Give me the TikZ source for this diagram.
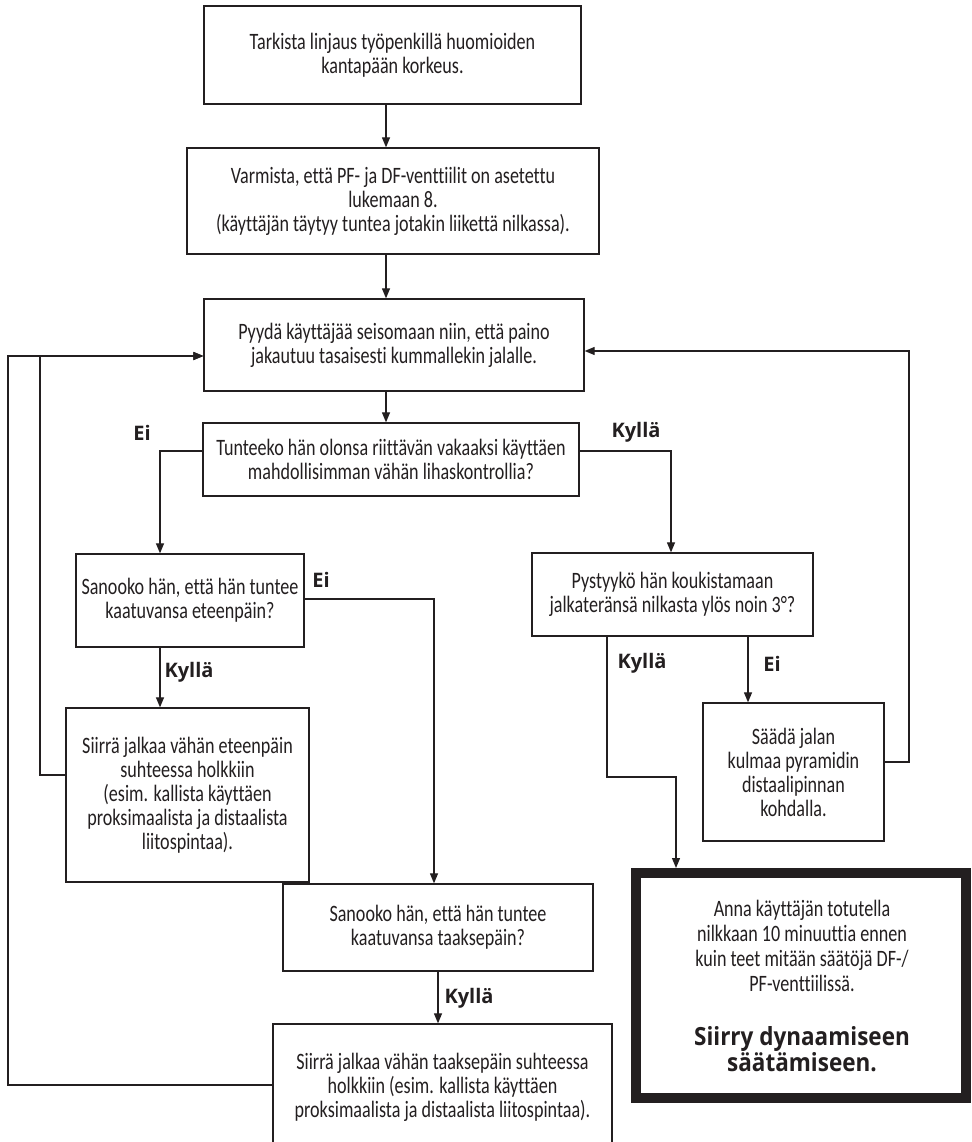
\documentclass[tikz,border=0pt]{standalone}
\usepackage{fontspec}
\setmainfont{Carlito}[FakeStretch=0.77, Ligatures=NoCommon]
\newfontfamily\labfont{Open Sans}
\newfontfamily\bigfont{Open Sans}[FakeStretch=0.9]
\usetikzlibrary{arrows.meta}
\definecolor{ink}{HTML}{231F20}
\newcommand\bodyfs{\fontsize{23.5}{24}\selectfont}
\newcommand\bodyfsb{\fontsize{23.5}{25}\selectfont}
\newcommand\labfs{\labfont\bfseries\fontsize{20}{21}\selectfont}
\newcommand\bigfs{\bigfont\bfseries\fontsize{25}{23.5}\selectfont}
\begin{document}
\begin{tikzpicture}[x=1pt,y=-1pt,
  every node/.style={text=ink},
  box/.style={draw=ink, line width=1.3pt, inner sep=0pt, align=center, font=\bodyfs},
  arr/.style={draw=ink, line width=1.2pt, -{Triangle[length=10pt,width=8pt]}},
  lab/.style={font=\labfs, inner sep=0pt},
]
\useasboundingbox (0,0) rectangle (971,1142);
\clip (0,0) rectangle (971,1142);
\fill[white] (0,0) rectangle (971,1142);

% boxes
\node[box, minimum width=377pt, minimum height=98pt] (b1) at (392.5,55) {Tarkista linjaus työpenkillä huomioiden\\kantapään korkeus.};
\node[box, minimum width=412pt, minimum height=106pt] (b2) at (393,201) {Varmista, että PF- ja DF-venttiilit on asetettu\\lukemaan 8.\\(käyttäjän täytyy tuntea jotakin liikettä nilkassa).};
\node[box, minimum width=380pt, minimum height=92pt] (b3) at (394,345) {Pyydä käyttäjää seisomaan niin, että paino\\jakautuu tasaisesti kummallekin jalalle.};
\node[box, minimum width=376pt, minimum height=73pt] (b4) at (391,459.5) {Tunteeko hän olonsa riittävän vakaaksi käyttäen\\mahdollisimman vähän lihaskontrollia?};
\node[box, minimum width=228pt, minimum height=93pt] (b5) at (190,600.5) {Sanooko hän, että hän tuntee\\kaatuvansa eteenpäin?};
\node[box, minimum width=243pt, minimum height=174pt] (b6) at (187.5,795) {Siirrä jalkaa vähän eteenpäin\\suhteessa holkkiin\\(esim. kallista käyttäen\\proksimaalista ja distaalista\\liitospintaa).};
\node[box, minimum width=281pt, minimum height=83pt] (b7) at (672.5,594.5) {Pystyykö hän koukistamaan\\jalkateränsä nilkasta ylös noin 3°?};
\node[box, minimum width=181pt, minimum height=138pt] (b8) at (793.5,772) {Säädä jalan\\kulmaa pyramidin\\distaalipinnan\\kohdalla.};
\node[box, minimum width=310pt, minimum height=87pt] (b10) at (438,927.5) {Sanooko hän, että hän tuntee\\kaatuvansa taaksepäin?};
\node[box, minimum width=339pt, minimum height=126pt] (b11) at (442.5,1087) {Siirrä jalkaa vähän taaksepäin suhteessa\\holkkiin (esim. kallista käyttäen\\proksimaalista ja distaalista liitospintaa).};
\node[draw=ink, line width=10pt, minimum width=330pt, minimum height=225pt, inner sep=0pt] (b9) at (801,985.5) {};
\node[font=\bodyfsb, align=center, inner sep=0pt] (b9t) at (802,946) {Anna käyttäjän totutella\\nilkkaan 10 minuuttia ennen\\kuin teet mitään säätöjä DF-/\\PF-venttiilissä.};
\node[font=\bigfs, align=center, inner sep=0pt] (b9b) at (802,1049) {Siirry dynaamiseen\\säätämiseen.};

% helper coordinates
\coordinate (sp) at (386,0);
\coordinate (yA) at (0,451);
\coordinate (xL) at (160,0);
\coordinate (xR) at (671,0);
\coordinate (yB) at (0,599);
\coordinate (xM) at (434,0);
\coordinate (xK) at (438,0);
\coordinate (xY) at (607,0);
\coordinate (yC) at (0,777);
\coordinate (xT) at (676,0);
\coordinate (xN) at (748,0);
\coordinate (yD) at (0,762);
\coordinate (xF) at (909,0);
\coordinate (yE) at (0,351);
\coordinate (yF) at (0,775);
\coordinate (xI) at (40,0);
\coordinate (yG) at (0,356);
\coordinate (yH) at (0,1085);
\coordinate (xO) at (8,0);

% connectors
\draw[arr] (b1.south -| sp) -- (b2.north -| sp);
\draw[arr] (b2.south -| sp) -- (b3.north -| sp);
\draw[arr] (b3.south -| sp) -- (b4.north -| sp);
\draw[arr] (b4.west |- yA) -| (b5.north -| xL);
\draw[arr] (b4.east |- yA) -| (b7.north -| xR);
\draw[arr] (b5.south -| xL) -- (b6.north -| xL);
\draw[arr] (b5.east |- yB) -| (b10.north -| xM);
\draw[arr] (b10.south -| xK) -- (b11.north -| xK);
\draw[arr] (b7.south -| xY) |- (yC -| xT) -- (b9.north -| xT);
\draw[arr] (b7.south -| xN) -- (b8.north -| xN);
\draw[arr] (b8.east |- yD) -| (yE -| xF) -- (b3.east |- yE);
\draw[arr] (b6.west |- yF) -| (yG -| xI) -- (b3.west |- yG);
\draw[arr] (b11.west |- yH) -| (yG -| xO) -- (b3.west |- yG);

% labels
\node[lab] (l1) at (142,433) {Ei};
\node[lab] (l2) at (636,432) {Kyllä};
\node[lab] (l3) at (321,580) {Ei};
\node[lab] (l4) at (189,672) {Kyllä};
\node[lab] (l5) at (642,663) {Kyllä};
\node[lab] (l6) at (772,664) {Ei};
\node[lab] (l7) at (469,998) {Kyllä};
\end{tikzpicture}
\end{document}
